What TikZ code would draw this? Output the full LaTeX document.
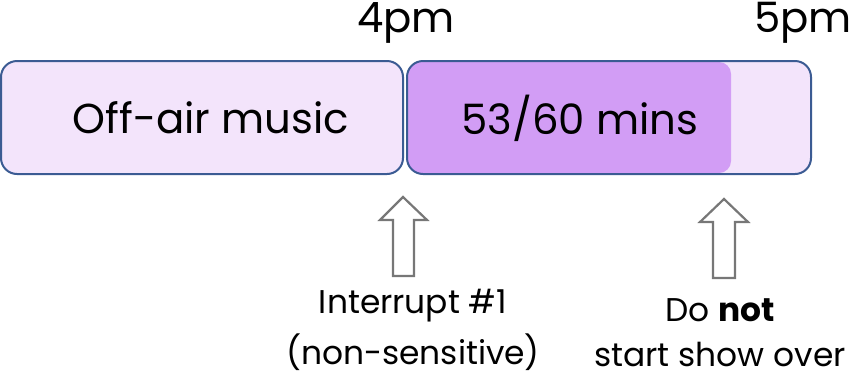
\documentclass[tikz,border=0pt]{standalone}
\usepackage{fontspec}
\setmainfont{Poppins}
\definecolor{lightfill}{HTML}{F3E4FB}
\definecolor{purplefill}{HTML}{D29DF5}
\definecolor{boxline}{HTML}{3B5B93}
\definecolor{arrowgray}{HTML}{777777}
\begin{document}
\begin{tikzpicture}[x=1bp,y=-1bp,
  slot/.style={draw=boxline,line width=2bp,rounded corners=16bp},
  bigtext/.style={font=\fontsize{42}{46}\selectfont,inner sep=0pt},
  smalltext/.style={font=\fontsize{33}{37}\selectfont,inner sep=0pt,align=center},
  hollowarrow/.style={draw=arrowgray,line width=2.2bp,fill=white}]
\useasboundingbox (0,0) rectangle (864,376);
% box 1
\path[slot,fill=lightfill] (1,61) rectangle (403,174);
% box 2
\path[fill=lightfill,rounded corners=16bp] (407,61) rectangle (811,174);
\begin{scope}
  \clip[rounded corners=16bp] (407,61) rectangle (811,174);
  \fill[purplefill,rounded corners=12bp] (400,62) rectangle (731,173);
\end{scope}
\path[slot] (407,61) rectangle (811,174);
\node[bigtext] (t4) at (406,23) {4pm};
\node[bigtext] (t5) at (803,23) {5pm};
\node[bigtext] (off) at (211,118) {Off-air music};
\node[bigtext] (mins) at (580,118) {53/60 mins};
% arrows
\draw[hollowarrow] (403,197) -- (427,220) -- (414,220) -- (414,276) -- (393,276) -- (393,220) -- (380,220) -- cycle;
\draw[hollowarrow] (724,199) -- (748,222) -- (735,222) -- (735,278) -- (713,278) -- (713,222) -- (700,222) -- cycle;
\node[smalltext] (int1) at (413,306) {Interrupt \#1};
\node[smalltext] (int2) at (413,352) {(non-sensitive)};
\node[smalltext] (do1) at (720,310) {Do \textbf{not}};
\node[smalltext] (do2) at (720,354) {start show over};
\end{tikzpicture}
\end{document}
